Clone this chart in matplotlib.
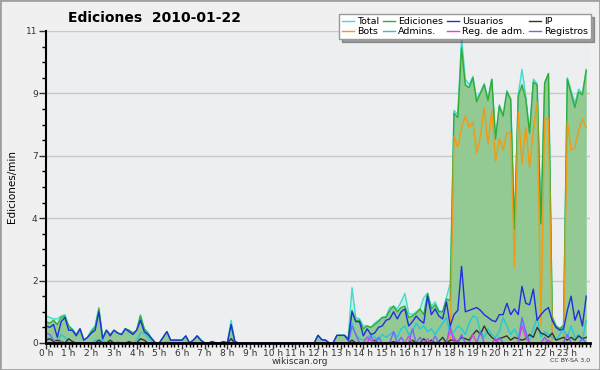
import numpy as np
import matplotlib
matplotlib.use("Agg")
import matplotlib.pyplot as plt
from matplotlib.patches import Rectangle
from matplotlib.ticker import MultipleLocator

# 10-minute buckets over the day, one row per hour (6 values)
total = [
    0.95, 0.9, 0.85, 0.85, 0.95, 1.0,
    0.6, 0.5, 0.3, 0.5, 0.1, 0.2,
    0.45, 0.6, 1.25, 0.2, 0.45, 0.3,
    0.45, 0.35, 0.3, 0.5, 0.45, 0.35,
    0.45, 1.0, 0.5, 0.35, 0.15, 0,
    0, 0.2, 0.4, 0.1, 0.1, 0.1,
    0.1, 0.25, 0, 0.1, 0.25, 0.1,
    0, 0, 0.05, 0, 0, 0.05,
    0, 0.8, 0.05, 0, 0, 0,
    0, 0, 0, 0, 0, 0,
    0, 0, 0, 0, 0, 0,
    0, 0, 0, 0, 0, 0,
    0.27, 0.12, 0.1, 0, 0, 0.27,
    0.27, 0.27, 0.2, 1.95, 0.9, 0.85,
    0.6, 0.6, 0.55, 0.7, 0.8, 0.9,
    0.95, 1.25, 1.3, 1.2, 1.45, 1.75,
    1.05, 1.0, 1.1, 1.2, 1.6, 1.75,
    1.3, 1.45, 1.15, 1.1, 1.6, 2.1,
    8.2, 8.05, 10.75, 9.3, 9.1, 9.4,
    8.6, 8.85, 9.15, 8.6, 9.3, 7.2,
    8.4, 8.05, 8.9, 8.6, 4.0, 8.75,
    9.65, 8.7, 7.4, 9.3, 9.15, 4.25,
    9.2, 9.5, 0.95, 0.6, 0.5, 0.65,
    9.35, 8.9, 8.45, 8.95, 8.8, 9.65,
]
ediciones = [
    0.75, 0.7, 0.8, 0.65, 0.9, 0.95,
    0.6, 0.45, 0.3, 0.5, 0.1, 0.2,
    0.4, 0.55, 1.2, 0.15, 0.45, 0.3,
    0.45, 0.35, 0.3, 0.5, 0.45, 0.35,
    0.45, 0.95, 0.5, 0.35, 0.15, 0,
    0, 0.2, 0.4, 0.1, 0.1, 0.1,
    0.1, 0.25, 0, 0.1, 0.25, 0.1,
    0, 0, 0.05, 0, 0, 0.05,
    0, 0.65, 0.05, 0, 0, 0,
    0, 0, 0, 0, 0, 0,
    0, 0, 0, 0, 0, 0,
    0, 0, 0, 0, 0, 0,
    0.27, 0.12, 0.1, 0, 0, 0.27,
    0.27, 0.27, 0.15, 1.15, 0.8, 0.8,
    0.5, 0.6, 0.55, 0.65, 0.75, 0.9,
    0.9, 1.15, 1.3, 1.1, 1.25, 1.3,
    0.9, 0.95, 1.05, 1.2, 1.0, 1.75,
    1.2, 1.35, 1.1, 1.1, 1.55, 1.5,
    8.1, 7.95, 10.4, 9.1, 9.0, 9.35,
    8.5, 8.8, 9.1, 8.55, 9.3, 7.2,
    8.35, 8.0, 8.85, 8.6, 4.0, 8.7,
    9.1, 8.6, 7.4, 9.2, 9.1, 4.2,
    9.15, 9.5, 0.9, 0.6, 0.5, 0.6,
    9.3, 8.8, 8.3, 8.85, 8.75, 9.6,
]
usuarios = [
    0.6, 0.55, 0.65, 0.2, 0.75, 0.9,
    0.45, 0.45, 0.25, 0.5, 0.1, 0.2,
    0.35, 0.45, 1.1, 0.15, 0.45, 0.25,
    0.45, 0.35, 0.3, 0.5, 0.4, 0.3,
    0.45, 0.8, 0.4, 0.3, 0.15, 0,
    0, 0.2, 0.4, 0.1, 0.1, 0.1,
    0.1, 0.25, 0, 0.1, 0.25, 0.1,
    0, 0, 0.05, 0, 0, 0.05,
    0, 0.65, 0.05, 0, 0, 0,
    0, 0, 0, 0, 0, 0,
    0, 0, 0, 0, 0, 0,
    0, 0, 0, 0, 0, 0,
    0.27, 0.12, 0.1, 0, 0, 0.27,
    0.27, 0.27, 0.1, 1.1, 0.75, 0.75,
    0.25, 0.5, 0.3, 0.35, 0.55, 0.6,
    0.8, 0.85, 1.1, 0.85, 1.1, 1.2,
    0.6, 0.75, 0.95, 0.8, 0.7, 1.65,
    1.0, 1.2, 0.95, 0.85, 1.45, 0.6,
    1.0, 1.15, 2.7, 1.1, 1.15, 1.2,
    1.25, 1.15, 1.0, 0.9, 0.8, 0.75,
    1.0, 1.0, 1.4, 1.0, 1.2, 1.0,
    2.0, 1.4, 1.35, 1.9, 0.8, 1.0,
    1.15, 1.25, 0.8, 0.55, 0.45, 0.5,
    1.15, 1.65, 0.8, 1.15, 0.6, 1.65,
]
bots = [0] * 108 + [
    7.3, 6.9, 7.6, 8.0, 7.6, 7.8,
    6.7, 7.3, 8.3, 7.0, 8.2, 6.4,
    7.2, 6.8, 7.4, 7.4, 2.7, 8.15,
    6.3, 7.6, 6.2, 7.5, 8.5, 0.6,
    7.9, 7.9, 0, 0, 0, 0,
    7.8, 6.8, 6.9, 7.5, 7.9, 7.6,
]
admins = [
    0.2, 0.15, 0.1, 0, 0.3, 0.2,
    0.05, 0, 0, 0, 0, 0,
    0, 0.1, 0.1, 0.1, 0, 0,
    0, 0.05, 0, 0, 0, 0,
    0.1, 0.35, 0.35, 0.2, 0.05, 0,
    0, 0, 0.05, 0, 0, 0,
    0, 0, 0, 0, 0, 0,
    0, 0, 0, 0, 0, 0,
    0, 0.17, 0, 0, 0, 0,
    0, 0, 0, 0, 0, 0,
    0, 0, 0, 0, 0, 0,
    0, 0, 0, 0, 0, 0,
    0, 0, 0, 0, 0, 0,
    0, 0, 0, 0.7, 0.3, 0.15,
    0.1, 0.2, 0.3, 0.2, 0.1, 0.3,
    0.2, 0.3, 0.4, 0.2, 0.5, 0.6,
    0.3, 0.4, 0.7, 0.5, 0.6, 0.4,
    0.5, 0.3, 0.5, 0.7, 0.9, 0.3,
    0.4, 0.6, 0.5, 0.3, 0.7, 0.95,
    0.9, 0.4, 0.2, 0.5, 0.3, 0.2,
    0.4, 0.9, 0.6, 0.3, 0.5, 0.2,
    0.8, 0.3, 0.1, 0.5, 0.9, 0.2,
    0.4, 0.3, 0.2, 0.1, 0.3, 0.5,
    0.2, 0.6, 0.2, 0.3, 0.1, 0.8,
]
ip = [
    0.1, 0.15, 0.05, 0.1, 0.05, 0,
    0.15, 0.05, 0, 0, 0, 0,
    0, 0, 0.1, 0, 0, 0.1,
    0, 0, 0, 0, 0.05, 0,
    0, 0.15, 0.1, 0, 0, 0,
    0, 0, 0, 0, 0, 0,
    0, 0, 0, 0, 0, 0,
    0, 0, 0, 0, 0, 0,
    0, 0.15, 0, 0, 0, 0,
    0, 0, 0, 0, 0, 0,
    0, 0, 0, 0, 0, 0,
    0, 0, 0, 0, 0, 0,
    0, 0, 0, 0, 0, 0,
    0, 0, 0, 0.1, 0, 0,
    0, 0, 0, 0.1, 0, 0,
    0, 0, 0.05, 0, 0, 0,
    0, 0.1, 0, 0, 0.15, 0,
    0.1, 0, 0.05, 0.2, 0, 0.1,
    0.1, 0.05, 0.2, 0.15, 0.1, 0.3,
    0.45, 0.3, 0.6, 0.35, 0.2, 0.1,
    0.15, 0.2, 0.25, 0.1, 0.2, 0.15,
    0.1, 0.15, 0.3, 0.2, 0.55, 0.35,
    0.3, 0.2, 0.35, 0.1, 0.15, 0.2,
    0.1, 0.2, 0.1, 0.25, 0.15, 0.2,
]
reg_adm = [0] * 84 + [
    0, 0.2, 0.1, 0, 0, 0,
    0, 0, 0, 0, 0, 0,
    0.25, 0, 0, 0, 0, 0.15,
    0, 0, 0, 0, 0, 0.45,
    0.2, 0, 0, 0, 0, 0.3,
    0, 0, 0, 0, 0, 0.15,
    0, 0, 0, 0, 0, 0,
    0.6, 0.2, 0, 0, 0, 0,
    0, 0.1, 0, 0, 0, 0,
    0, 0, 0, 0, 0, 0,
]
registros = [0.35, 0.3, 0.1, 0, 0.05, 0] + [0] * 72 + [
    0, 0, 0, 0.6, 0.3, 0,
    0, 0, 0.25, 0, 0.2, 0,
    0, 0, 0.4, 0, 0.2, 0,
    0, 0.5, 0, 0.2, 0, 0,
    0, 0.25, 0, 0, 0, 0.6,
    0, 0, 0.3, 0, 0, 0,
    0, 0.4, 0, 0, 0, 0,
    0.2, 0, 0, 0, 0, 0,
    0.9, 0.4, 0, 0, 0, 0,
    0.2, 0, 0, 0, 0, 0,
    0.3, 0, 0, 0, 0.15, 0,
]

hours = np.arange(len(total)) / 6.0
hour_labels = ["%d h" % h for h in range(24)]
ytick_vals = np.linspace(0, 11, 6)

fig = plt.figure(figsize=(6, 3.7), dpi=100, facecolor="#f0f0f0")
fig.patches.append(Rectangle((0, 0), 1, 1, transform=fig.transFigure, fill=False,
                             edgecolor="#a0a0a0", linewidth=2))
ax = fig.add_axes([46 / 600, 1 - 343 / 370, 544 / 600, 312 / 370])
ax.set_facecolor("#eceef0")

# filled areas
ax.fill_between(hours, 0, total, color="#c4eeea", linewidth=0)
ax.fill_between(hours, 0, ediciones, color="#93c993", linewidth=0)

lw = 1.0
ax.plot(hours, total, color="#40dccc", lw=lw, label="Total")
ax.plot(hours, ediciones, color="#33aa33", lw=lw, label="Ediciones")
ax.plot(hours, bots, color="#f29a12", lw=lw, label="Bots")
ax.plot(hours, admins, color="#22c8e0", lw=lw, label="Admins.")
ax.plot(hours, ip, color="#333333", lw=lw, label="IP")
ax.plot(hours, registros, color="#8060ff", lw=lw, label="Registros")
ax.plot(hours, reg_adm, color="#e040e0", lw=lw, label="Reg. de adm.")
ax.plot(hours, usuarios, color="#2030e0", lw=lw, label="Usuarios")

ax.set_xlim(0, 24)
ax.set_ylim(0, 11)
ax.set_yticks(ytick_vals)
ax.set_yticklabels(["%d" % round(v) for v in ytick_vals])
ax.yaxis.set_minor_locator(MultipleLocator(0.55))
ax.set_xticks(range(24))
ax.set_xticklabels(hour_labels)
ax.xaxis.set_minor_locator(MultipleLocator(1 / 6))
ax.grid(axis="y", color="#c8c8c8", linewidth=1)
ax.set_axisbelow(True)

for s in ["top", "right"]:
    ax.spines[s].set_visible(False)
ax.spines["left"].set_linewidth(1.5)
ax.spines["bottom"].set_linewidth(2)
ax.tick_params(axis="y", which="major", labelsize=6.5, colors="#333333", length=5, width=1, pad=1)
ax.tick_params(axis="x", which="major", labelsize=6.5, colors="#333333", length=4, width=1, pad=0)
ax.tick_params(axis="both", which="minor", length=3, width=1)

fig.text(12 / 600, 1 - 187 / 370, "Ediciones/min", fontsize=7.5, rotation=90,
         ha="center", va="center")
fig.text(154 / 600, 1 - 18 / 370, "Ediciones  2010-01-22", fontsize=10, fontweight="bold",
         ha="center", va="center")
fig.text(300 / 600, 1 - 361 / 370, "wikiscan.org", fontsize=6.5, ha="center", va="center",
         color="#333333")
fig.text(590 / 600, 1 - 361 / 370, "CC BY-SA 3.0", fontsize=4.5, ha="right", va="center",
         color="#333333")

handles, labels = ax.get_legend_handles_labels()
order = ["Total", "Bots", "Ediciones", "Admins.", "Usuarios", "Reg. de adm.", "IP", "Registros"]
hmap = dict(zip(labels, handles))
fig.legend([hmap[k] for k in order], order, loc="upper right", ncol=4,
           bbox_to_anchor=(596 / 600, 1 - 9 / 370), fontsize=6.8, frameon=True,
           fancybox=False, shadow=True, edgecolor="#999999", framealpha=1,
           handlelength=1.2, handletextpad=0.35, columnspacing=0.45,
           borderpad=0.35, labelspacing=0.1)

fig.savefig("out.png", dpi=100, facecolor=fig.get_facecolor())
